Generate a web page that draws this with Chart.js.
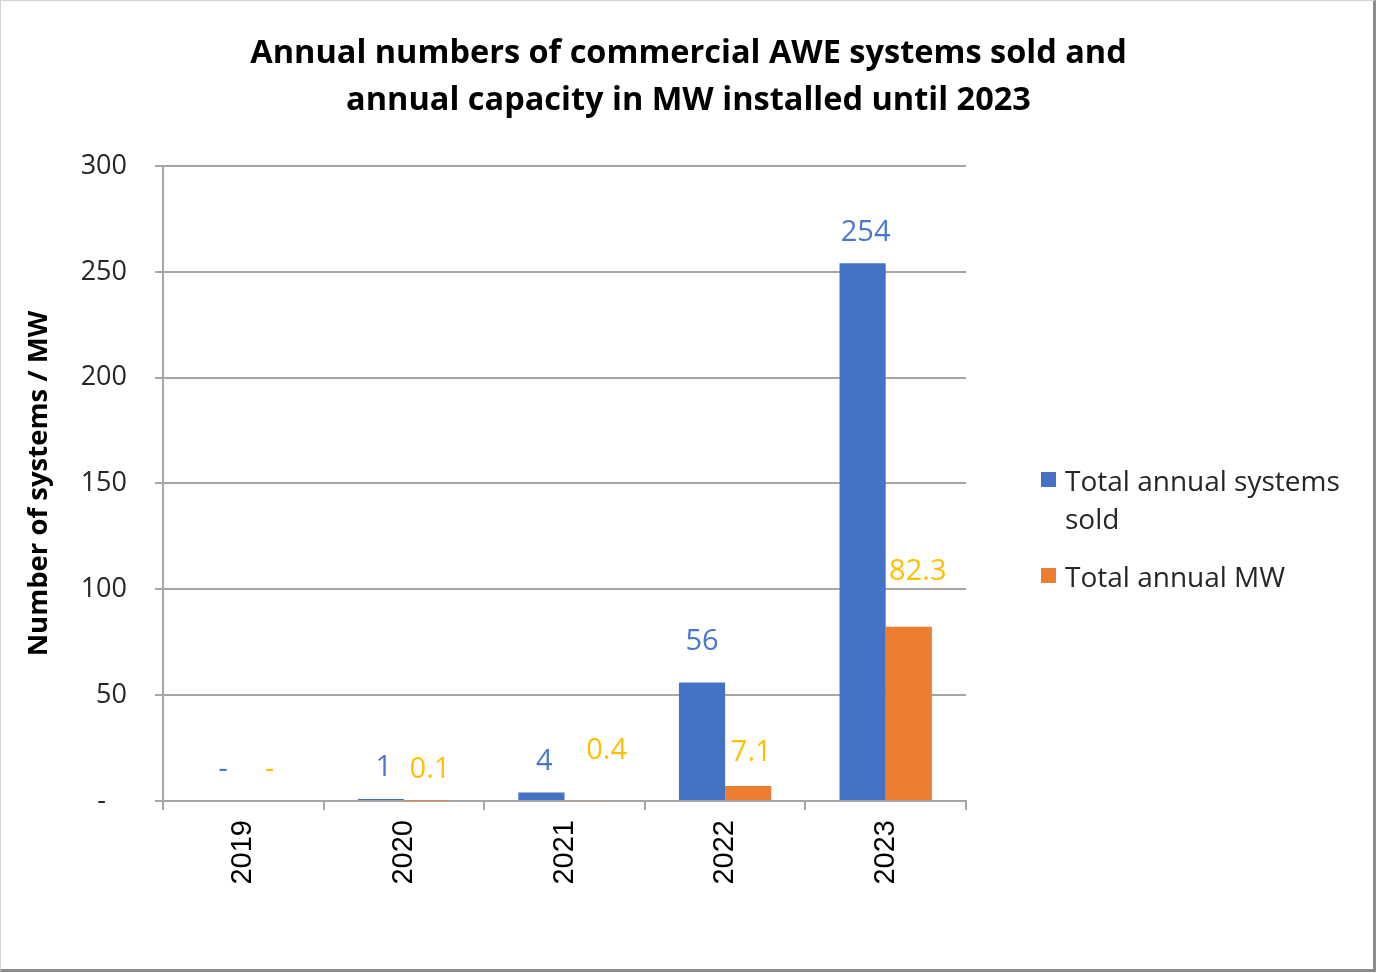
<!DOCTYPE html>
<html>
<head>
<meta charset="utf-8">
<script src="https://cdn.jsdelivr.net/npm/chart.js@4/dist/chart.umd.min.js"></script>
<style>
    body { margin: 0; background: #fff; }
    #wrap { position: relative; width: 1377px; height: 973px; }
    #frame {
        position: absolute; left: 0; top: 0; width: 1372px; height: 968px;
        border-left: 1px solid #d4d4d4; border-top: 1px solid #d4d4d4;
        border-right: 3px solid #8c8c8c; border-bottom: 3px solid #8c8c8c;
        pointer-events: none;
    }
    #legend {
        position: absolute; left: 1041px; top: 461px;
        font-family: "Open Sans", sans-serif; font-size: 28px; color: #262626;
    }
    .item { position: relative; padding-left: 24px; line-height: 38px; margin-bottom: 20px; }
    .box { position: absolute; left: 0; top: 11px; width: 15px; height: 15px; }
</style>
</head>
<body>
<div id="wrap">
    <canvas id="awe" width="1377" height="973"></canvas>
    <div id="legend"></div>
    <div id="frame"></div>
</div>
<script>
const years = ['2019', '2020', '2021', '2022', '2023'];
const systemsSold = [0, 1, 4, 56, 254];
const capacityMW = [0, 0.1, 0.4, 7.1, 82.3];
const seriesNames = [['Total annual systems', 'sold'], ['Total annual MW']];
const yTicks = [0, 50, 100, 150, 200, 250, 300];

const blue = '#4472C4';
const orange = '#ED7D31';
const labelColors = ['#4A78CC', '#FFC000'];

// value labels were nudged by hand in the original: lift above the bar top and sideways shift (px)
const labelLift = [
    [31, 31, 31, 41, 31],
    [31, 31, 49, 33, 55]
];
const labelShift = [
    [3, 3, 3, 0, 3],
    [3, 3, 19, 3, 9]
];

// accounting style: zero shows as a dash
function fmt(v) {
    return v === 0 ? '-' : String(v);
}

const valueLabels = {
    id: 'valueLabels',
    afterDatasetsDraw(chart) {
        const ctx = chart.ctx;
        ctx.save();
        ctx.font = '29px "Open Sans", sans-serif';
        ctx.textAlign = 'center';
        ctx.textBaseline = 'middle';
        chart.data.datasets.forEach((ds, di) => {
            const meta = chart.getDatasetMeta(di);
            meta.data.forEach((bar, i) => {
                ctx.fillStyle = labelColors[di];
                ctx.fillText(fmt(ds.data[i]), bar.x + labelShift[di][i], bar.y - labelLift[di][i]);
            });
        });
        ctx.restore();
    }
};

new Chart(document.getElementById('awe').getContext('2d'), {
    type: 'bar',
    data: {
        labels: years,
        datasets: [
            { label: seriesNames[0].join(' '), data: systemsSold, backgroundColor: blue },
            { label: seriesNames[1].join(' '), data: capacityMW, backgroundColor: orange }
        ]
    },
    options: {
        responsive: false,
        animation: false,
        layout: { padding: 0 },
        datasets: { bar: { categoryPercentage: 0.575, barPercentage: 1 } },
        plugins: {
            legend: { display: false },
            tooltip: { enabled: false },
            title: {
                display: true,
                text: ['Annual numbers of commercial AWE systems sold and', 'annual capacity in MW installed until 2023'],
                color: '#000',
                font: { family: '"Open Sans", sans-serif', size: 32.5, weight: 'bold', lineHeight: 1.446 },
                padding: { top: 30, bottom: 42 }
            }
        },
        scales: {
            x: {
                afterFit: s => { s.height = 172; },
                grid: { drawOnChartArea: false, drawTicks: true, tickLength: 9, color: '#a6a6a6', lineWidth: 2 },
                border: { color: '#a6a6a6', width: 2 },
                ticks: {
                    color: '#000', maxRotation: 90, minRotation: 90, padding: 10,
                    font: { family: '"Liberation Sans", Arial, sans-serif', size: 29 }
                }
            },
            y: {
                min: 0, max: 300,
                afterFit: s => { s.width = 163; },
                afterBuildTicks: s => { s.ticks = yTicks.map(v => ({ value: v })); },
                grid: { color: '#a6a6a6', lineWidth: 2, tickLength: 8 },
                border: { color: '#a6a6a6', width: 2 },
                ticks: {
                    color: '#262626', padding: 28,
                    font: { family: '"Open Sans", sans-serif', size: 27 },
                    callback: v => v === 0 ? '-   ' : String(v)
                },
                title: {
                    display: true, text: 'Number of systems / MW', color: '#000',
                    font: { family: '"Open Sans", sans-serif', size: 27.5, weight: 'bold', lineHeight: 1.2 },
                    padding: { top: 23, bottom: 0 }
                }
            },
            // empty right-hand axis that only reserves the room where the legend sits
            side: {
                type: 'linear', position: 'right',
                afterFit: s => { s.width = 411; },
                grid: { display: false },
                border: { display: false },
                ticks: { display: false }
            }
        }
    },
    plugins: [valueLabels]
});

const legend = document.getElementById('legend');
[blue, orange].forEach((c, i) => {
    const item = document.createElement('div');
    item.className = 'item';
    item.innerHTML = `<span class="box" style="background:${c}"></span>` + seriesNames[i].join('<br>');
    legend.appendChild(item);
});
</script>
</body>
</html>
